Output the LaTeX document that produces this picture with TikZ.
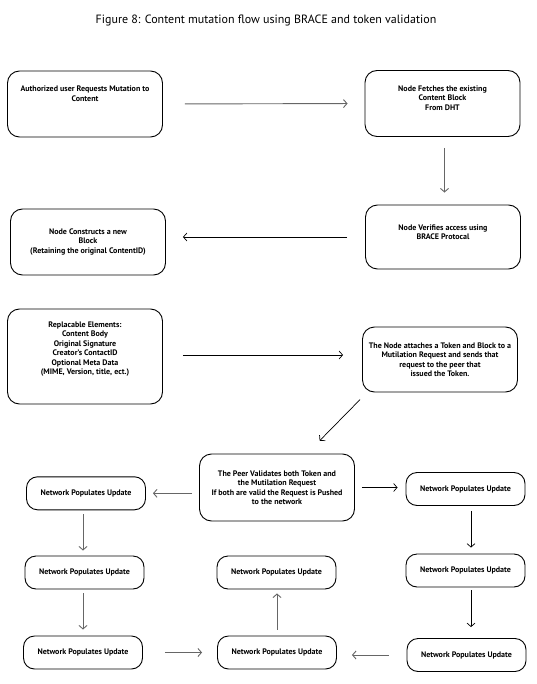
\documentclass[tikz,border=0pt]{standalone}
\usepackage{fontspec}
\setmainfont{PT Sans}
\usetikzlibrary{arrows.meta}

\begin{document}
\begin{tikzpicture}[
			x=1pt, y=-1pt,
			>={Straight Barb[length=3.5pt,width=8pt]},
			box/.style={rectangle, rounded corners=12pt, draw=black, line width=0.9pt, align=center, inner sep=2pt, minimum width=155pt, minimum height=66pt, font=\fontsize{8}{9.5}\selectfont\bfseries},
			update/.style={box, rounded corners=11pt, minimum width=119pt, minimum height=33pt},
			arrow/.style={->, line width=0.7pt, black},
			dimarrow/.style={->, line width=0.9pt, black!60}
		]
		\useasboundingbox (0,0) rectangle (537,684);

		% Title
		\node[font=\fontsize{12}{14}\selectfont] (title) at (266,21) {Figure 8: Content mutation flow using BRACE and token validation};

		% Request, fetch and access check
		\node[box, text depth=21pt] (req) at (85,104) {Authorized user Requests Mutation to\\Content};
		\node[box, text depth=11pt] (fetch) at (442.5,103.5) {Node Fetches the existing\\Content Block\\From DHT};
		\node[box, text depth=10pt, minimum height=64pt] (verify) at (443,237) {Node Verifies access using\\BRACE Protocal};
		\node[box] (build) at (88,242) {Node Constructs a new\\Block\\(Retaining the original ContentID)};

		% Replaced parts and mutation request
		\node[box, text depth=17pt, minimum height=95pt] (elems) at (85,356.5) {Replacable Elements:\\Content Body\\Original Signature\\Creator’s ContactID\\Optional Meta Data\\(MIME, Version, title, ect.)};
		\node[box, minimum height=65pt] (attach) at (440,359.5) {The Node attaches a Token and Block to a\\Mutilation Request and sends that\\request to the peer that\\issued the Token.};
		\node[box, minimum height=67pt] (peer) at (277,487.5) {The Peer Validates both Token and\\the Mutilation Request\\If both are valid the Request is Pushed\\to the network};

		% Network updates
		\node[update] (netl1) at (86,493.3) {Network Populates Update};
		\node[update] (netl2) at (84.5,572.5) {Network Populates Update};
		\node[update] (netl3) at (83,652.5) {Network Populates Update};
		\node[update] (netm1) at (276.5,572.5) {Network Populates Update};
		\node[update] (netm2) at (277,652.5) {Network Populates Update};
		\node[update] (netr1) at (465.5,489) {Network Populates Update};
		\node[update] (netr2) at (465.5,570.5) {Network Populates Update};
		\node[update] (netr3) at (466.5,655) {Network Populates Update};

		% Arrows
		\draw[dimarrow, shorten <=22pt, shorten >=17pt] (req.east) -- (fetch.west);
		\draw[dimarrow, shorten <=11pt, shorten >=12pt] ([xshift=2pt]fetch.south) -- ([xshift=2pt]fetch.south |- verify.north);
		\draw[arrow, shorten <=18pt, shorten >=17pt] (verify.west) -- (verify.west -| build.east);
		\draw[arrow, shorten <=20pt, shorten >=19pt] ([yshift=1.5pt]elems.east) -- ([yshift=1.5pt]elems.east -| attach.west);
		\draw[arrow, shorten <=10pt, shorten >=18pt] ([xshift=5pt]attach.south west) -- ([xshift=30pt]peer.north);
		\draw[dimarrow, shorten <=7pt, shorten >=7pt] (netl1.east -| peer.west) -- (netl1.east);
		\draw[arrow, shorten <=7pt, shorten >=8pt] (peer.east) -- (peer.east -| netr1.west);
		\draw[dimarrow, shorten <=4pt, shorten >=5pt] ([xshift=-3pt]netl1.south) -- ([xshift=-3pt]netl1.south |- netl2.north);
		\draw[dimarrow, shorten <=4pt, shorten >=6pt] ([xshift=-1.5pt]netl2.south) -- ([xshift=-1.5pt]netl2.south |- netl3.north);
		\draw[dimarrow, shorten <=22pt, shorten >=15pt] (netl3.east) -- (netl3.east -| netm2.west);
		\draw[dimarrow, shorten <=6pt, shorten >=4pt] (netm2.north) -- (netm2.north |- netm1.south);
		\draw[arrow, shorten <=5pt, shorten >=6pt] ([xshift=5.5pt]netr1.south) -- ([xshift=5.5pt]netr1.south |- netr2.north);
		\draw[arrow, shorten <=3pt, shorten >=11pt] ([xshift=5.5pt]netr2.south) -- ([xshift=5.5pt]netr2.south |- netr3.north);
		\draw[dimarrow, shorten <=18pt, shorten >=15pt] (netr3.west) -- (netr3.west -| netm2.east);

	\end{tikzpicture}
\end{document}
